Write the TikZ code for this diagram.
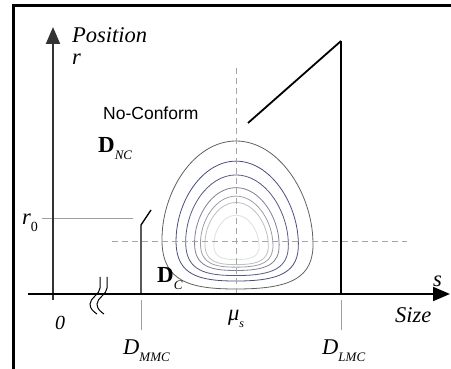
\documentclass[tikz,border=0pt]{standalone}
\usepackage{fontspec}
\setmainfont{Liberation Serif}
\newfontfamily\labsans{Liberation Sans}
\usetikzlibrary{arrows.meta}
\newcommand{\subtx}[1]{\raisebox{-.3em}{\fontsize{13}{13}\selectfont\itshape #1}}
\tikzset{
  lab/.style={anchor=base west, inner sep=0pt, font=\fontsize{22.5}{22.5}\selectfont\itshape},
  axisline/.style={line width=2pt, -{Triangle[length=17pt,width=14pt]}},
  guide/.style={draw=gray!75, line width=.8pt},
  midline/.style={draw=gray!70, line width=.8pt, dash pattern=on 6pt off 4pt},
  limitline/.style={line width=1.3pt},
}
\begin{document}
\begin{tikzpicture}[x=1pt,y=-1pt]
\useasboundingbox (0,0) rectangle (451,369);
\fill[white] (0,0) rectangle (451,369);
\draw[line width=3pt] (13,369) -- (13,6) -- (451,6);
% coordinates of the axes and limits
\coordinate (ybot) at (53,300);
\coordinate (ytop) at (53,27);
\coordinate (xleft) at (28,294);
\coordinate (xright) at (450,294);
\coordinate (mmcbase) at (141,294);
\coordinate (mmcknee) at (141,225);
\coordinate (mmctop) at (151,210);
\coordinate (lmcbase) at (341,294);
\coordinate (lmctop) at (341,41);
\coordinate (lmcend) at (248,123);
\coordinate (mutop) at (236,68);
\coordinate (mubase) at (236,294);
\coordinate (rleft) at (42,218);
\coordinate (rright) at (133,218);
\coordinate (hleft) at (112,241);
\coordinate (hright) at (407,241);
\coordinate (mmctick1) at (141,300);
\coordinate (mmctick2) at (141,330);
\coordinate (lmctick1) at (341,300);
\coordinate (lmctick2) at (341,330);
% contours
\foreach \k/\col in {1/black!62, .81/blue!30!black!70, .68/blue!25!black!65, .56/blue!20!black!50, .48/blue!10!black!38, .42/black!25, .30/green!30!black!15}{
  \draw[\col, line width=.8pt, shift={(236,247)}, scale=\k]
    (0,-106) .. controls (42,-106) and (76,-55) .. (77,-5)
    .. controls (78,31) and (55,42) .. (0,42)
    .. controls (-45,42) and (-73,35) .. (-74,-5)
    .. controls (-75,-55) and (-42,-106) .. (0,-106);
}
\draw[midline] (mutop) -- (mubase);
\draw[midline] (hleft) -- (hright);
\draw[guide] (rleft) -- (rright);
\draw[guide] (mmctick1) -- (mmctick2);
\draw[guide] (lmctick1) -- (lmctick2);
\draw[limitline] (mmcbase) -- (mmcknee) -- (mmctop);
\draw[limitline] (lmcbase) -- (lmctop);
\draw[line width=1.8pt] (lmctop) -- (lmcend);
\draw[axisline, black!80] (ybot) -- (ytop);
\draw[axisline] (xleft) -- (xright);
% axis break
\foreach \bx in {100,107}{
  \draw[line width=1pt] (\bx,277) -- (\bx,288) .. controls (\bx,294) and (\bx-10,298) .. (\bx-10,304)
    .. controls (\bx-10,309) and (\bx-6,312) .. (\bx-3,314);
}
% labels
\node[lab] (pos) at (72,43) {Position};
\node[lab] (rr) at (72,65) {r};
\node[lab, font=\labsans\fontsize{17.5}{17.5}\selectfont] (nc) at (103,120) {No-Conform};
\node[lab, font=\fontsize{23}{23}\selectfont\bfseries] (dnc) at (98,153) {D\subtx{\mdseries NC}};
\node[lab] (rzero) at (22,225) {r\raisebox{-.3em}{\fontsize{14}{14}\selectfont\upshape 0}};
\node[lab, font=\fontsize{20}{20}\selectfont\itshape] (zero) at (55,330) {0};
\node[lab, font=\fontsize{23}{23}\selectfont\bfseries] (dc) at (157,283) {D\subtx{\mdseries C}};
\node[lab] (dmmc) at (123,355) {D\subtx{MMC}};
\node[lab] (dlmc) at (322,355) {D\subtx{LMC}};
\node[lab] (mus) at (228,321) {μ\raisebox{-.3em}{\fontsize{12}{12}\selectfont\itshape s}};
\node[lab] (size) at (395,323) {Size};
\node[lab] (ss) at (433,287) {s};
\end{tikzpicture}
\end{document}
